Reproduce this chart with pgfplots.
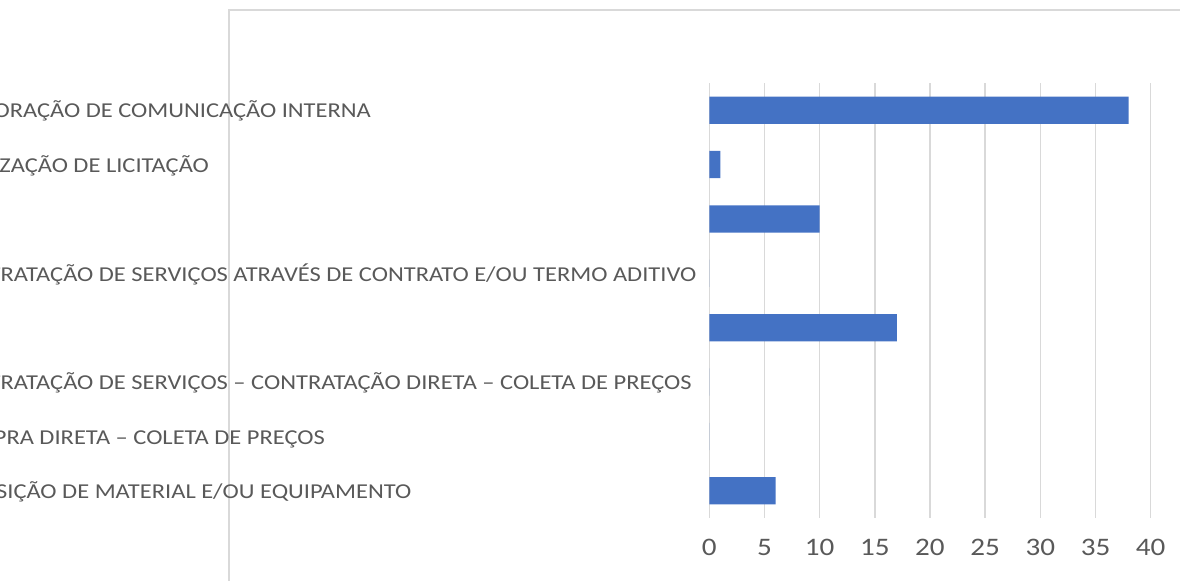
\documentclass[border=0pt]{standalone}
\usepackage{pgfplots}
\pgfplotsset{compat=1.18}
\usepackage{fontspec}
\setmainfont{Carlito}[FakeStretch=1.155]
\definecolor{txt}{HTML}{595959}
\definecolor{gridc}{HTML}{D9D9D9}
\definecolor{barc}{HTML}{4472C4}
\begin{document}
\begin{tikzpicture}
\path[use as bounding box] (0,0) rectangle (590pt,-290pt);
\clip (0,0) rectangle (590pt,-290pt);
\draw[gridc, line width=0.75pt] (114.5pt,-291pt) -- (114.5pt,-5pt) -- (591pt,-5pt);
\begin{axis}[
  at={(354.65pt,-41.5pt)}, anchor=north west,
  scale only axis, width=220.7pt, height=217.5pt,
  xmin=0, xmax=40, ymin=0.5, ymax=8.5,
  y dir=reverse,
  xbar, bar width=13.6pt,
  xtick={0,5,...,40},
  ytick={1,...,8},
  yticklabels={{ELABORAÇÃO DE COMUNICAÇÃO INTERNA},{REALIZAÇÃO DE LICITAÇÃO},{},{CONTRATAÇÃO DE SERVIÇOS ATRAVÉS DE CONTRATO E/OU TERMO ADITIVO},{},{CONTRATAÇÃO DE SERVIÇOS – CONTRATAÇÃO DIRETA – COLETA DE PREÇOS},{COMPRA DIRETA – COLETA DE PREÇOS},{AQUISIÇÃO DE MATERIAL E/OU EQUIPAMENTO}},
  yticklabel style={anchor=base west, inner sep=0pt, xshift=-378.65pt, yshift=-3.9pt, font=\fontsize{10.6}{12}\selectfont, text=txt},
  xticklabel style={anchor=base, inner sep=0pt, yshift=-18.65pt, font=\fontsize{12.6}{14}\selectfont, text=txt},
  /pgf/number format/assume math mode=true,
  axis line style={draw=none},
  tick style={draw=none},
  xmajorgrids,
  major grid style={gridc, line width=0.75pt},
]
\addplot[fill=barc, draw=none] coordinates {(38,1) (1,2) (10,3) (0,4) (17,5) (0,6) (0,7) (6,8)};
\end{axis}
\end{tikzpicture}
\end{document}
